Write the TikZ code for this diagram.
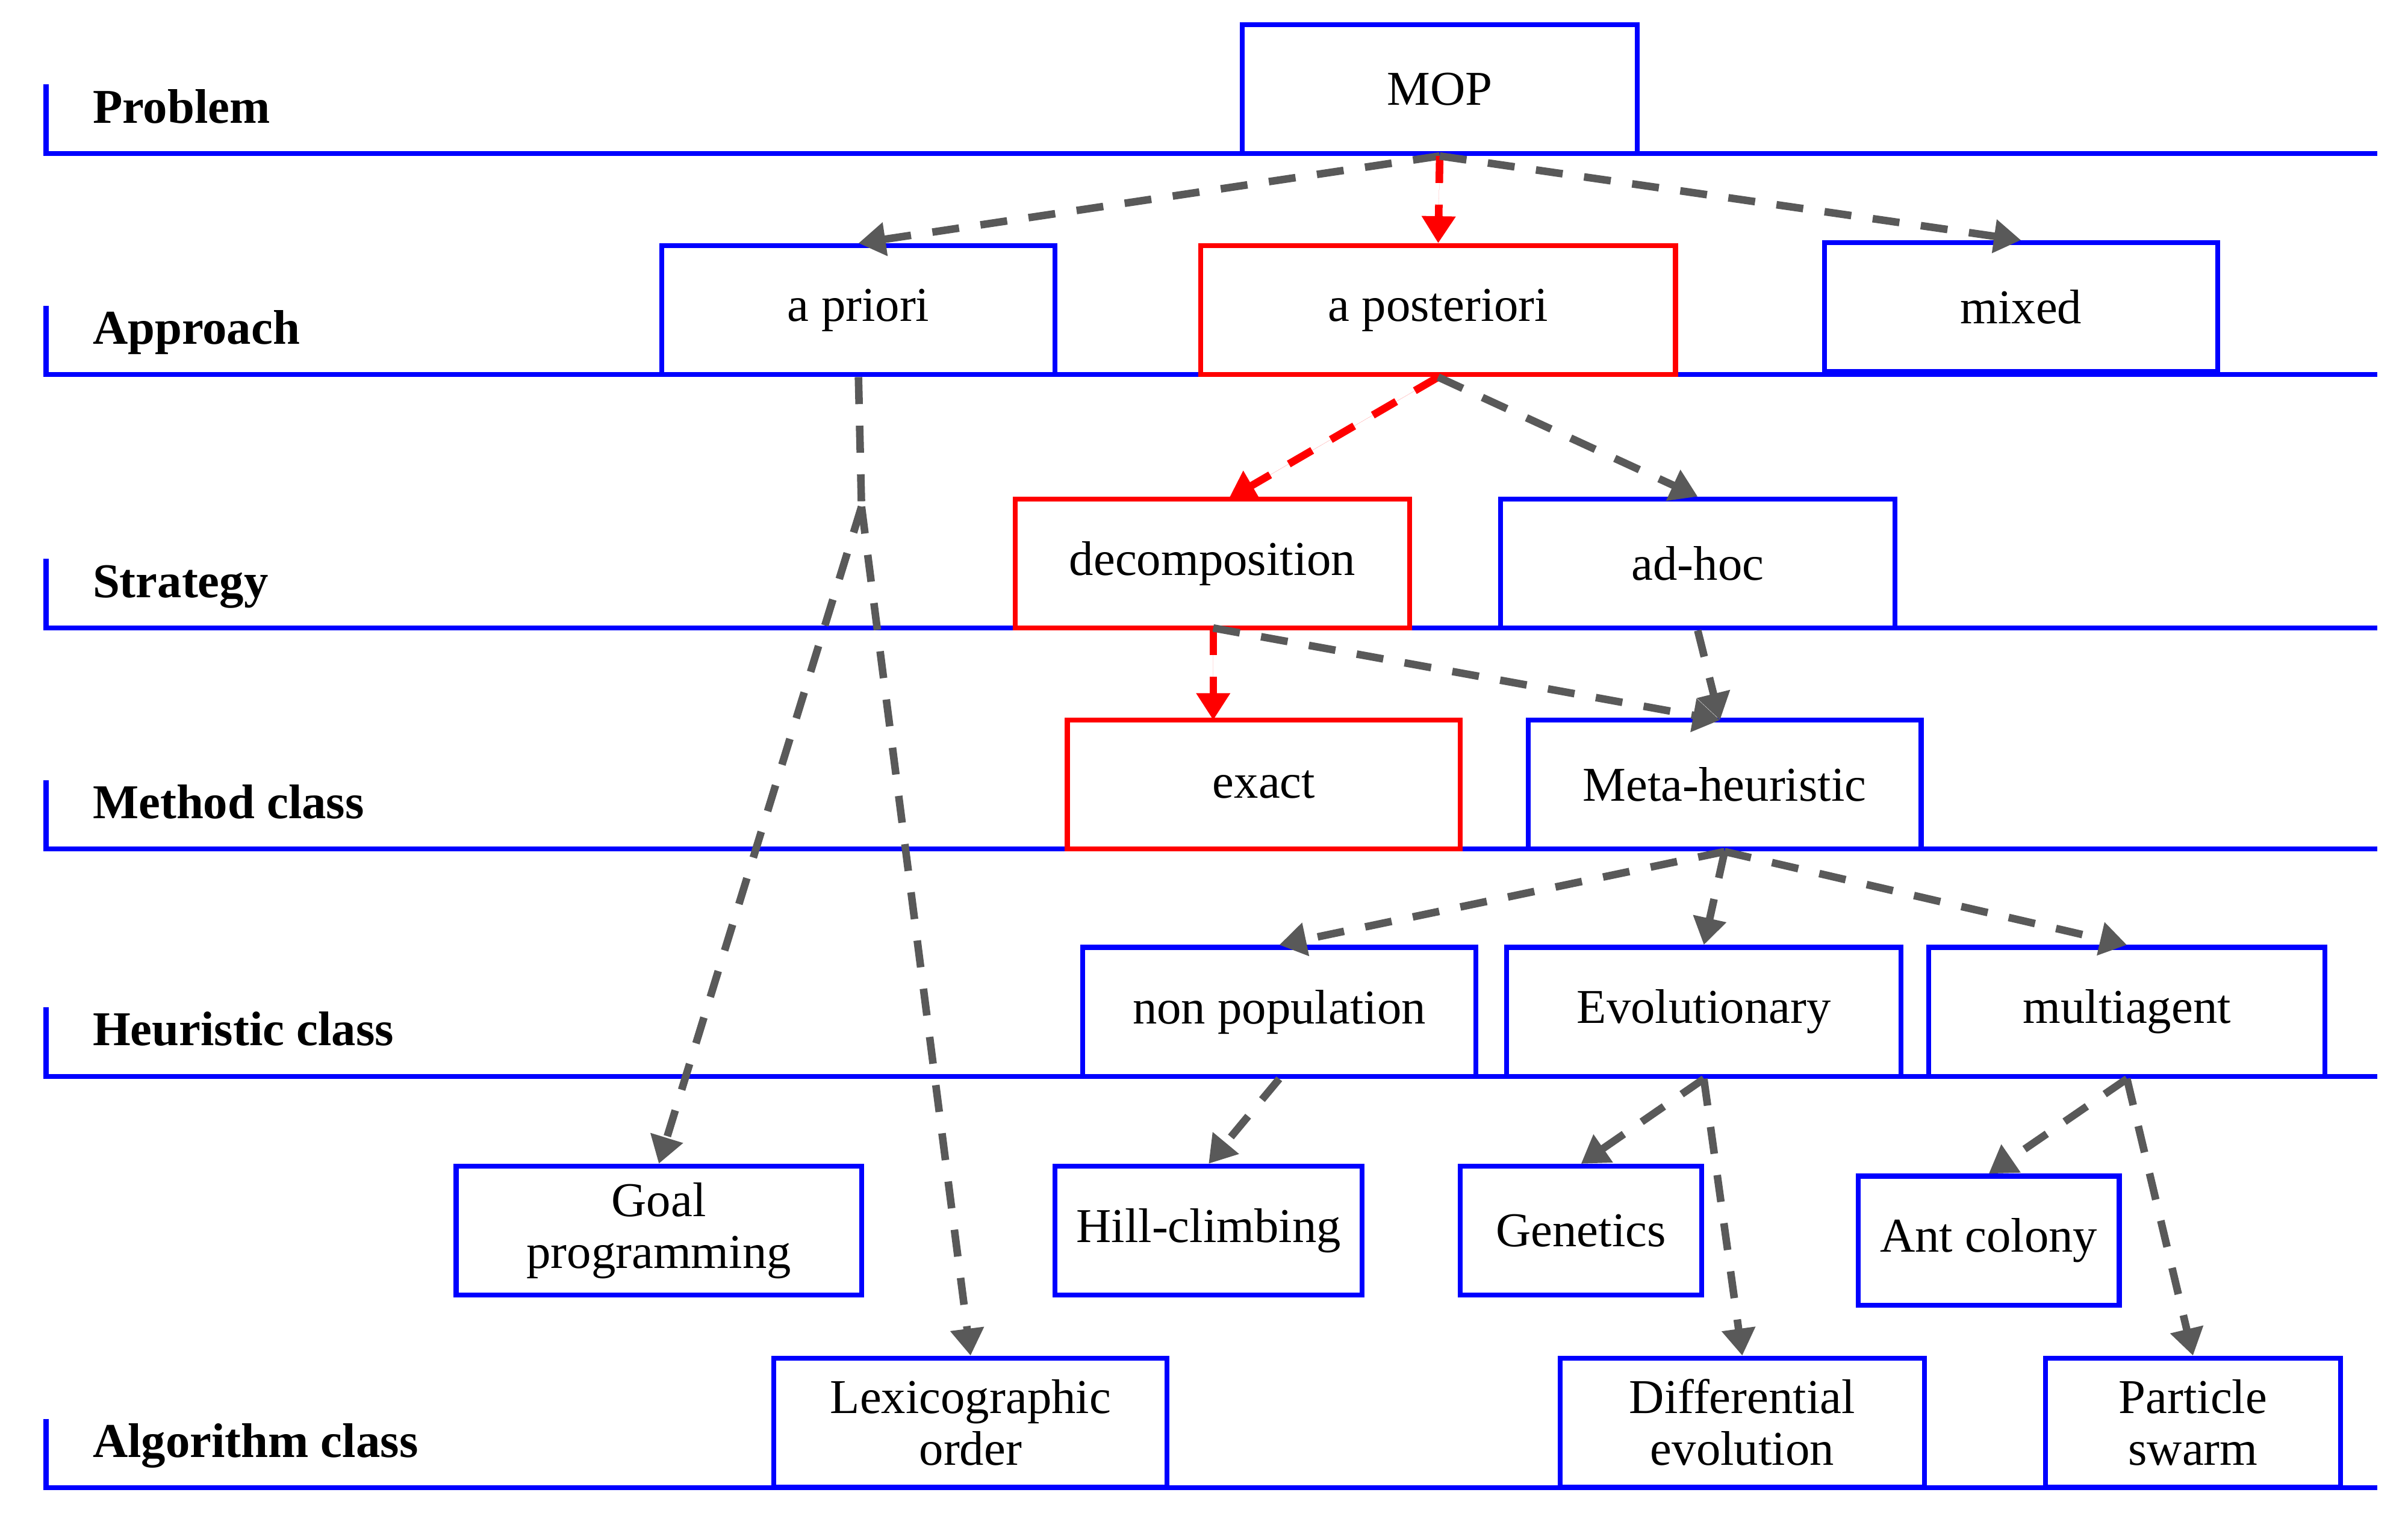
\documentclass[tikz,border=0pt]{standalone}
\usepackage{fontspec}
\setmainfont{Liberation Serif}
\usetikzlibrary{arrows.meta}
\begin{document}
\begin{tikzpicture}[x=0.01cm,y=-0.01cm,
 bx/.style={draw=blue,line width=0.9pt,minimum width=#1*0.01cm,minimum height=0.84cm,inner sep=0pt,align=center,font=\fontsize{9}{9.6}\selectfont},
 rbx/.style={bx=#1,draw=red},
 ar/.style={draw=black!65,line width=1.4pt,dash pattern=on 5pt off 4pt,-{Triangle[length=5pt,width=6pt]}},
 rar/.style={ar,draw=red,fill=red},
 lvl/.style={anchor=base west,font=\bfseries\fontsize{9}{10}\selectfont},
 hl/.style={draw=blue,line width=0.9pt}]
\useasboundingbox (0,0) rectangle (1568,991);
\foreach \y/\t in {100/Problem,244/Approach,409/Strategy,553/Method class,701/Heuristic class,969/Algorithm class}{
 \draw[hl] (30,\y-45) -- (30,\y) -- (1548,\y);
 \node[lvl] at (48,\y-20) {\t};}
\node[bx=257] (mop) at (937.5,58) {MOP};
\node[bx=256] (apr) at (559,202) {a priori};
\node[rbx=309] (apo) at (936.5,202) {a posteriori};
\node[bx=256] (mix) at (1316,200) {mixed};
\node[rbx=257] (dec) at (789.5,367) {decomposition};
\node[bx=257] (adh) at (1105.5,367) {ad-hoc};
\node[rbx=256] (exa) at (823,511) {exact};
\node[bx=256] (met) at (1123,511) {Meta-heuristic};
\node[bx=256] (nop) at (833,659) {non population};
\node[bx=257] (evo) at (1109.5,659) {Evolutionary};
\node[bx=258] (mul) at (1385,659) {multiagent};
\node[bx=264] (goa) at (429,801.5) {Goal\\programming};
\node[bx=200] (hil) at (787,801.5) {Hill-climbing};
\node[bx=157] (gen) at (1029.5,801.5) {Genetics};
\node[bx=170] (ant) at (1295,808) {Ant colony};
\node[bx=256] (lex) at (632,926.5) {Lexicographic\\order};
\node[bx=237] (dif) at (1134.5,926.5) {Differential\\evolution};
\node[bx=192] (par) at (1428,926.5) {Particle\\swarm};
\coordinate (br) at (561,330);
\draw[ar] (mop.south) -- (apr.north);
\draw[rar] (mop.south) -- (apo.north);
\draw[ar] (mop.south) -- (mix.north);
\draw[ar,-] (apr.south) -- (br);
\draw[ar] (br) -- (goa.north);
\draw[ar] (br) -- (lex.north);
\draw[rar] (apo.south) -- (800,325);
\draw[ar] (apo.south) -- (adh.north);
\draw[rar] (790,409) -- (790,469);
\draw[ar] (790,409) -- (1120,469);
\draw[ar] (adh.south) -- (1120,469);
\draw[ar] (met.south) -- (nop.north);
\draw[ar] (met.south) -- (evo.north);
\draw[ar] (met.south) -- (mul.north);
\draw[ar] (nop.south) -- (hil.north);
\draw[ar] (evo.south) -- (gen.north);
\draw[ar] (evo.south) -- (dif.north);
\draw[ar] (mul.south) -- (ant.north);
\draw[ar] (mul.south) -- (par.north);
\end{tikzpicture}
\end{document}
